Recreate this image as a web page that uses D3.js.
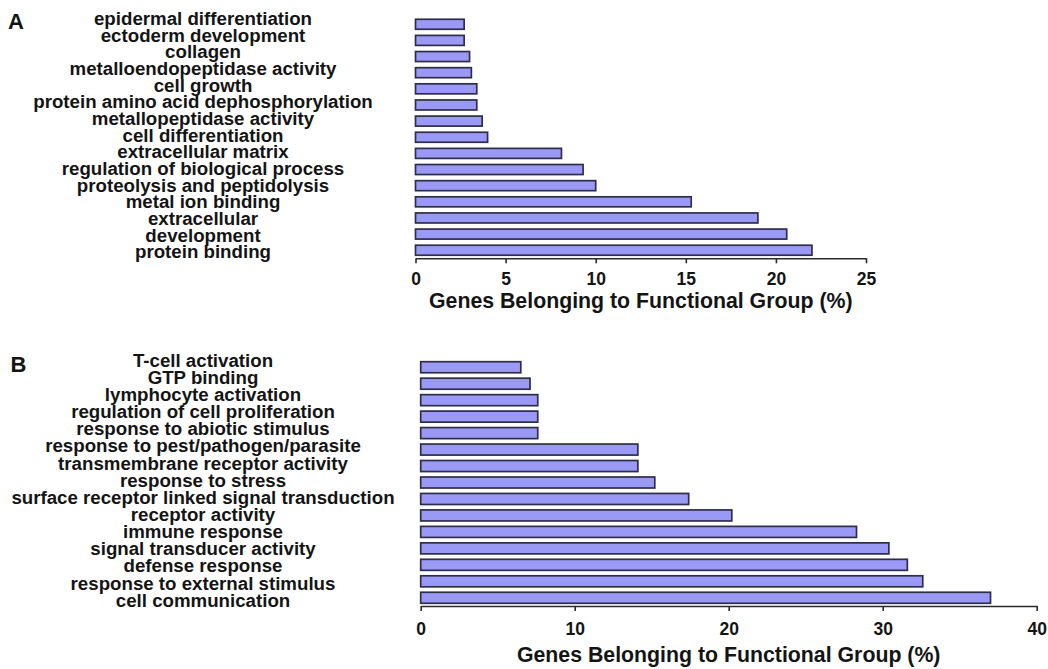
<!DOCTYPE html>
<html>
<head>
<meta charset="utf-8">
<script src="https://cdn.jsdelivr.net/npm/d3@7"></script>
<style>
  html, body { margin: 0; padding: 0; background: #fff; }
  svg { display: block; }
  text { font-family: "Liberation Sans", Arial, Helvetica, sans-serif; font-weight: bold; fill: #141414; }
</style>
</head>
<body>
<svg id="chart" width="1048" height="669"></svg>
<script>
// Panel A: functional groups and percentages (top to bottom)
const categoriesA = [
  "epidermal differentiation",
  "ectoderm development",
  "collagen",
  "metalloendopeptidase activity",
  "cell growth",
  "protein amino acid dephosphorylation",
  "metallopeptidase activity",
  "cell differentiation",
  "extracellular matrix",
  "regulation of biological process",
  "proteolysis and peptidolysis",
  "metal ion binding",
  "extracellular",
  "development",
  "protein binding"
];
const valuesA = [2.7, 2.7, 3.0, 3.1, 3.4, 3.4, 3.7, 4.0, 8.1, 9.3, 10.0, 15.3, 19.0, 20.6, 22.0];
const ticksA = [0, 5, 10, 15, 20, 25];

// Panel B: functional groups and percentages (top to bottom)
const categoriesB = [
  "T-cell activation",
  "GTP binding",
  "lymphocyte activation",
  "regulation of cell proliferation",
  "response to abiotic stimulus",
  "response to pest/pathogen/parasite",
  "transmembrane receptor activity",
  "response to stress",
  "surface receptor linked signal transduction",
  "receptor activity",
  "immune response",
  "signal transducer activity",
  "defense response",
  "response to external stimulus",
  "cell communication"
];
const valuesB = [6.5, 7.1, 7.6, 7.6, 7.6, 14.1, 14.1, 15.2, 17.4, 20.2, 28.3, 30.4, 31.6, 32.6, 37.0];
const ticksB = [0, 10, 20, 30, 40];

const axisTitle = "Genes Belonging to Functional Group (%)";

const svg = d3.select("#chart");

function drawPanel(cfg) {
  const g = svg.append("g");
  const data = cfg.categories.map((c, i) => ({ name: c, value: cfg.values[i] }));

  const x = d3.scaleLinear().domain([0, cfg.max]).range([cfg.x0, cfg.x1]);
  const y = d3.scaleBand().domain(cfg.categories).range([cfg.yTop, cfg.yBottom])
    .paddingInner(cfg.pad).paddingOuter(cfg.pad / 2);
  // category labels sit on their own evenly spaced baselines
  const yLabel = d3.scalePoint().domain(cfg.categories).range([cfg.labelFirst, cfg.labelLast]);

  g.selectAll("rect.bar").data(data).join("rect")
    .attr("class", "bar")
    .attr("x", x(0))
    .attr("y", d => y(d.name))
    .attr("width", d => x(d.value) - x(0))
    .attr("height", y.bandwidth())
    .attr("fill", "#9a9af6")
    .attr("stroke", "#2e2e48")
    .attr("stroke-width", 1.7);

  g.selectAll("text.cat").data(data).join("text")
    .attr("class", "cat")
    .attr("x", cfg.labelX)
    .attr("y", d => yLabel(d.name))
    .attr("text-anchor", "middle")
    .style("font-size", "18.7px")
    .text(d => d.name);

  const axis = d3.axisBottom(x).tickValues(cfg.ticks).tickSize(5).tickSizeOuter(0)
    .tickFormat(d3.format("d"));
  const ax = g.append("g").attr("transform", `translate(0,${cfg.yBottom})`).call(axis);
  ax.select(".domain").attr("stroke", "#2a2a2a").attr("stroke-width", 1.6);
  ax.selectAll(".tick line").attr("stroke", "#2a2a2a").attr("stroke-width", 1.6);
  ax.selectAll(".tick text")
    .attr("dy", null)
    .attr("y", cfg.tickBaseline - cfg.yBottom)
    .style("font-size", "17.5px")
    .style("font-family", "'Liberation Sans', Arial, sans-serif")
    .style("font-weight", "bold")
    .attr("fill", "#141414");

  g.append("text")
    .attr("x", (cfg.x0 + cfg.x1) / 2)
    .attr("y", cfg.titleBaseline)
    .attr("text-anchor", "middle")
    .style("font-size", "21.3px")
    .text(axisTitle);

  g.append("text")
    .attr("x", cfg.letterX)
    .attr("y", cfg.letterY)
    .style("font-size", "22px")
    .text(cfg.letter);
}

drawPanel({
  letter: "A", letterX: 8, letterY: 28.5,
  categories: categoriesA, values: valuesA, ticks: ticksA, max: 25,
  x0: 415.5, x1: 866,
  yTop: 16.2, yBottom: 258.3, pad: 0.38,
  labelX: 203, labelFirst: 25, labelLast: 258.3,
  tickBaseline: 285, titleBaseline: 307.5
});

drawPanel({
  letter: "B", letterX: 10.5, letterY: 371.7,
  categories: categoriesB, values: valuesB, ticks: ticksB, max: 40,
  x0: 420.7, x1: 1036.7,
  yTop: 359, yBottom: 606, pad: 0.33,
  labelX: 203, labelFirst: 366.7, labelLast: 606.7,
  tickBaseline: 635, titleBaseline: 662
});
</script>
</body>
</html>
